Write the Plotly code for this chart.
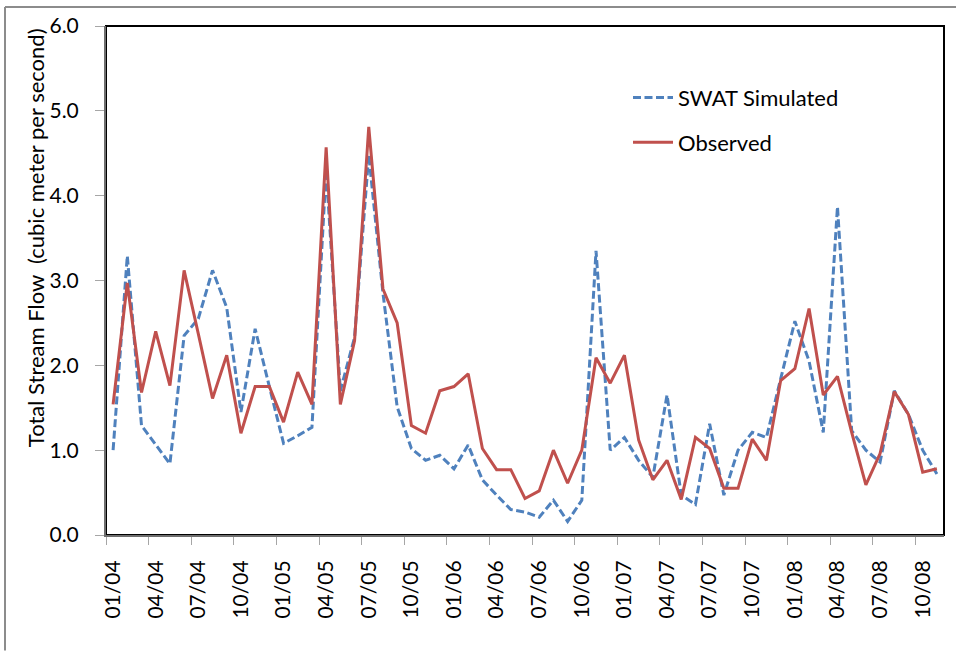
import plotly.graph_objects as go

# Monthly periods, Jan 2004 .. Nov 2008
months = [f"{m:02d}/{y:02d}" for y in range(4, 9) for m in range(1, 13)][:59]

# Total stream flow (m3/s)
swat_simulated = [
    1.00, 3.29, 1.29, 1.07, 0.84, 2.35, 2.55, 3.12, 2.68, 1.45, 2.43, 1.75,
    1.08, 1.17, 1.27, 4.30, 1.70, 2.33, 4.48, 2.85, 1.51, 1.02, 0.88, 0.94,
    0.78, 1.06, 0.65, 0.47, 0.30, 0.27, 0.21, 0.41, 0.16, 0.41, 3.35, 1.00,
    1.15, 0.88, 0.68, 1.65, 0.47, 0.36, 1.31, 0.47, 1.00, 1.21, 1.15, 1.84,
    2.52, 2.05, 1.21, 3.87, 1.23, 1.00, 0.86, 1.70, 1.42, 1.00, 0.72,
]
observed = [
    1.54, 2.97, 1.68, 2.40, 1.76, 3.12, 2.37, 1.61, 2.12, 1.20, 1.75, 1.75,
    1.33, 1.92, 1.54, 4.57, 1.54, 2.29, 4.81, 2.90, 2.50, 1.29, 1.20, 1.70,
    1.75, 1.90, 1.02, 0.77, 0.77, 0.43, 0.52, 1.00, 0.61, 1.00, 2.09, 1.79,
    2.12, 1.12, 0.65, 0.88, 0.42, 1.15, 1.02, 0.55, 0.55, 1.13, 0.88, 1.82,
    1.96, 2.67, 1.65, 1.87, 1.21, 0.59, 0.96, 1.69, 1.42, 0.74, 0.78,
]

y_ticks = [0, 1, 2, 3, 4, 5, 6]
label_step = 3

FONT = "Lato"
BLUE = "#4F81BD"
RED = "#C0504D"

x = list(range(len(months)))

fig = go.Figure()
fig.add_trace(go.Scatter(
    x=x, y=swat_simulated, mode="lines", name="SWAT Simulated",
    legendgroup="sim",
    line=dict(color=BLUE, width=3, dash="8px,3.5px"),
))
fig.add_trace(go.Scatter(
    x=x, y=observed, mode="lines", name="Observed",
    legendgroup="obs",
    line=dict(color=RED, width=3),
))

W, H = 956, 651
ml, mr, mt, mb = 106, 12, 24, 116
pw, ph = W - ml - mr, H - mt - mb

def px_x(p):
    return (p - ml) / pw

def px_y(p):
    return 1 - (p - mt) / ph

shapes = [
    # plot area border
    dict(type="rect", xref="paper", yref="paper", x0=0, y0=0, x1=1, y1=1,
         line=dict(color="black", width=2), layer="below"),
    # outer frame (left and top edges)
    dict(type="line", xref="paper", yref="paper",
         x0=px_x(5), x1=px_x(5), y0=px_y(H), y1=px_y(5),
         line=dict(color="#8c8c8c", width=2)),
    dict(type="line", xref="paper", yref="paper",
         x0=px_x(5), x1=px_x(W + 2), y0=px_y(5), y1=px_y(5),
         line=dict(color="#8c8c8c", width=2)),
]

fig.update_layout(
    width=W, height=H,
    margin=dict(l=ml, r=mr, t=mt, b=mb),
    paper_bgcolor="white", plot_bgcolor="white",
    font=dict(family=FONT, color="black"),
    showlegend=True,
    legend=dict(
        x=px_x(628), y=px_y(75), xanchor="left", yanchor="top",
        font=dict(family=FONT, size=22, color="black"),
        bgcolor="rgba(0,0,0,0)", tracegroupgap=13,
        traceorder="grouped", itemwidth=40,
    ),
    shapes=shapes,
    annotations=[dict(
        text="Total Stream Flow  (cubic meter per second)",
        xref="paper", yref="paper", x=px_x(35), y=px_y(237),
        xanchor="center", yanchor="middle",
        textangle=-90, showarrow=False,
        font=dict(family=FONT, size=22, color="black"),
    )],
)

fig.update_xaxes(
    range=[-0.5, len(months) - 0.5],
    tickmode="array", tickvals=x[::label_step], ticktext=months[::label_step],
    tickangle=-90, ticks="", ticklabelstandoff=15,
    tickfont=dict(family=FONT, size=21, color="black"),
    showgrid=False, zeroline=False,
    showline=True, linecolor="#6e6e6e", linewidth=2,
    minor=dict(tickmode="array",
               tickvals=[v - 0.5 for v in x[::label_step]],
               ticks="outside", ticklen=8, tickcolor="#a6a6a6", tickwidth=1,
               showgrid=False),
)
fig.update_yaxes(
    range=[0, 6], tickmode="array", tickvals=y_ticks,
    tickformat=".1f", ticks="outside", ticklen=9, tickcolor="#a6a6a6",
    ticklabelstandoff=12,
    tickfont=dict(family=FONT, size=21, color="black"),
    showgrid=False, zeroline=False,
    showline=True, linecolor="#6e6e6e", linewidth=2,
)

fig.write_html("out.html")
